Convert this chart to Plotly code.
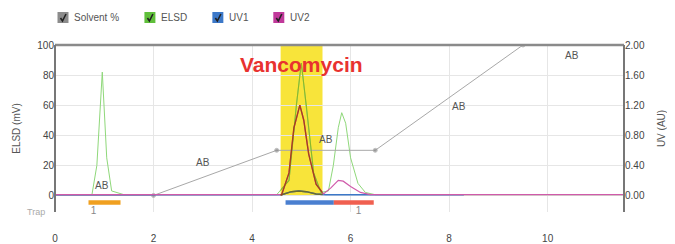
import plotly.graph_objects as go

# ---- data ----
solvent_x = [0, 2, 4.5, 6.5, 9.5, 11.55]
solvent_y = [0, 0, 30, 30, 100, 100]

elsd_x = [0, 0.75, 0.85, 0.96, 1.05, 1.15, 1.4, 4.5, 4.75, 4.9, 5.0, 5.1, 5.25, 5.4,
          5.55, 5.65, 5.75, 5.82, 5.9, 6.0, 6.15, 6.3, 6.5, 11.55]
elsd_y = [0.5, 0.5, 20, 82, 25, 3, 0.5, 0.5, 10, 60, 88, 60, 15, 2,
          3, 20, 45, 55, 48, 25, 8, 2, 0.5, 0.5]

uv1_x = [0, 4.6, 4.8, 4.95, 5.1, 5.3, 5.5, 8.3]
uv1_y = [0.01, 0.01, 0.05, 0.06, 0.05, 0.02, 0.01, 0.01]

uv2_x = [0, 4.6, 4.75, 4.85, 4.97, 5.05, 5.15, 5.3, 5.45, 5.6, 5.75, 5.85, 6.0, 6.2, 6.4, 11.55]
uv2_y = [0.01, 0.01, 0.3, 0.9, 1.2, 1.0, 0.55, 0.15, 0.02, 0.1, 0.2, 0.19, 0.12, 0.04, 0.01, 0.01]

ab_x = [0.96, 3.0, 5.5, 8.2, 10.5]
ab_y = [6.5, 22, 37, 59, 93]

highlight = (4.58, 5.43)
fractions = [(0.68, 1.33, "#f0a020"), (4.68, 5.66, "#4a7fd0"), (5.66, 6.47, "#f06050")]
trap_labels_x = [0.78, 6.16]
trap_labels = ["1", "1"]

x_range = [0, 11.55]
y_range = [-11, 100]
y2_range = [-0.22, 2.0]
x_ticks = [0, 2, 4, 6, 8, 10]
y_ticks = [0, 20, 40, 60, 80, 100]
y2_ticks = [0, 0.4, 0.8, 1.2, 1.6, 2.0]

legend_items = [("Solvent %", "#8c8c8c"), ("ELSD", "#5fbf3a"), ("UV1", "#3c78c8"), ("UV2", "#c0399a")]

FONT = "Liberation Sans"

# page body has an 8px margin: figure pixel = page pixel - 8
OFF = 8
FIG_W, FIG_H = 675 - OFF, 244 - OFF
L, R, T, B = 54.5 - OFF, 624 - OFF, 45 - OFF, 212 - OFF
W, H = R - L, B - T
def px(x):  # page pixel -> paper
    return (x - OFF - L) / W
def py(y):
    return (B - (y - OFF)) / H

# ---- figure ----
fig = go.Figure()
fig.add_trace(go.Scatter(x=uv1_x, y=uv1_y, yaxis="y2", mode="lines",
                         line=dict(color="#3c78c8", width=1.4)))
fig.add_trace(go.Scatter(x=uv2_x, y=uv2_y, yaxis="y2", mode="lines",
                         line=dict(color="#d05aaa", width=1.2)))
fig.add_trace(go.Scatter(x=elsd_x, y=elsd_y, mode="lines",
                         line=dict(color="#8fd87a", width=1)))
fig.add_trace(go.Scatter(x=solvent_x, y=solvent_y, mode="lines+markers",
                         line=dict(color="#a8a8a8", width=1),
                         marker=dict(size=[0, 4, 4, 4, 4, 0], color="#888")))

# same traces, clipped to the highlighted window (darker look over yellow)
fig.add_trace(go.Scatter(x=uv1_x, y=uv1_y, xaxis="x3", yaxis="y4", mode="lines",
                         line=dict(color="#6a6a30", width=1.4)))
fig.add_trace(go.Scatter(x=elsd_x, y=elsd_y, xaxis="x3", yaxis="y3", mode="lines",
                         line=dict(color="#8cb828", width=1.1)))
fig.add_trace(go.Scatter(x=uv2_x, y=uv2_y, xaxis="x3", yaxis="y4", mode="lines",
                         line=dict(color="#a8401c", width=1.4)))

# fraction numbers below the trap bars, as a text trace
fig.add_trace(go.Scatter(x=trap_labels_x, y=[-10.9] * len(trap_labels_x), mode="text",
                         text=trap_labels, textposition="middle center", cliponaxis=False,
                         textfont=dict(size=10, color="#888", family=FONT)))

for x, y in zip(ab_x, ab_y):
    fig.add_annotation(x=x, y=y, text="AB", showarrow=False,
                       font=dict(size=10, color="#555", family=FONT))

fig.add_shape(type="rect", x0=highlight[0], x1=highlight[1], y0=0, y1=100, xref="x", yref="y",
              fillcolor="#f8e43a", line=dict(width=0), layer="below")

fig.add_annotation(x=5.0, y=87, text="<b>Vancomycin</b>", showarrow=False,
                   font=dict(size=21, color="#e8322f", family=FONT))

for x0, x1, c in fractions:
    fig.add_shape(type="rect", x0=x0, x1=x1, y0=-3.2, y1=-6.2, xref="x", yref="y",
                  fillcolor=c, line=dict(width=0))

fig.add_annotation(x=px(46), y=py(212), xref="paper", yref="paper", text="Trap",
                   showarrow=False, xanchor="right", yanchor="middle",
                   font=dict(size=9, color="#aaa", family=FONT))

# frame lines
fig.add_shape(type="line", x0=0, x1=1, y0=1, y1=1, xref="paper", yref="paper",
              line=dict(color="#8a8a8a", width=2.5))
fig.add_shape(type="line", x0=0, x1=0, y0=0, y1=1, xref="paper", yref="paper",
              line=dict(color="#777", width=2))
fig.add_shape(type="line", x0=1, x1=1, y0=0, y1=1, xref="paper", yref="paper",
              line=dict(color="#777", width=2))

# manual legend
box_x = [57, 144, 212, 273]
for (name, col), bx in zip(legend_items, box_x):
    fig.add_shape(type="rect", xref="paper", yref="paper",
                  x0=px(bx), x1=px(bx + 11), y0=py(23), y1=py(12),
                  fillcolor=col, line=dict(width=0))
    fig.add_shape(type="path", xref="paper", yref="paper",
                  path=f"M {px(bx+3)} {py(18)} L {px(bx+5)} {py(21)} L {px(bx+8.5)} {py(14)}",
                  line=dict(color="#222", width=1.6))
    fig.add_annotation(xref="paper", yref="paper", x=px(bx + 15), y=py(17.5),
                       text=name, showarrow=False, xanchor="left", yanchor="middle",
                       font=dict(size=10, color="#555", family=FONT))

hl0 = (highlight[0] - x_range[0]) / (x_range[1] - x_range[0])
hl1 = (highlight[1] - x_range[0]) / (x_range[1] - x_range[0])

fig.update_layout(
    width=FIG_W, height=FIG_H,
    margin=dict(l=L, r=FIG_W - R, t=T, b=FIG_H - B, autoexpand=False),
    plot_bgcolor="rgba(0,0,0,0)", paper_bgcolor="white",
    font=dict(family=FONT, size=10, color="#555"),
    showlegend=False,
    xaxis=dict(range=x_range, tickvals=x_ticks, showgrid=True, gridcolor="#e6e6e6",
               zeroline=False, showline=False, ticklabelstandoff=19, automargin=False,
               tickfont=dict(size=10, color="#444")),
    yaxis=dict(range=y_range, tickvals=y_ticks, showgrid=True, gridcolor="#e6e6e6",
               zeroline=False, showline=False, automargin=False,
               title=dict(text="ELSD (mV)", font=dict(size=10, color="#555"), standoff=14),
               tickfont=dict(size=10, color="#444")),
    yaxis2=dict(range=y2_range, tickvals=y2_ticks, tickformat=".2f", overlaying="y",
                side="right", showgrid=False, zeroline=False, showline=False, automargin=False,
                title=dict(text="UV (AU)", font=dict(size=10, color="#555"), standoff=14),
                tickfont=dict(size=10, color="#444")),
    xaxis3=dict(domain=[hl0, hl1], range=list(highlight), visible=False, anchor="y3"),
    yaxis3=dict(range=y_range, visible=False, anchor="x3"),
    yaxis4=dict(range=y2_range, visible=False, anchor="x3", overlaying="y3"),
)

fig.write_html("out.html")
